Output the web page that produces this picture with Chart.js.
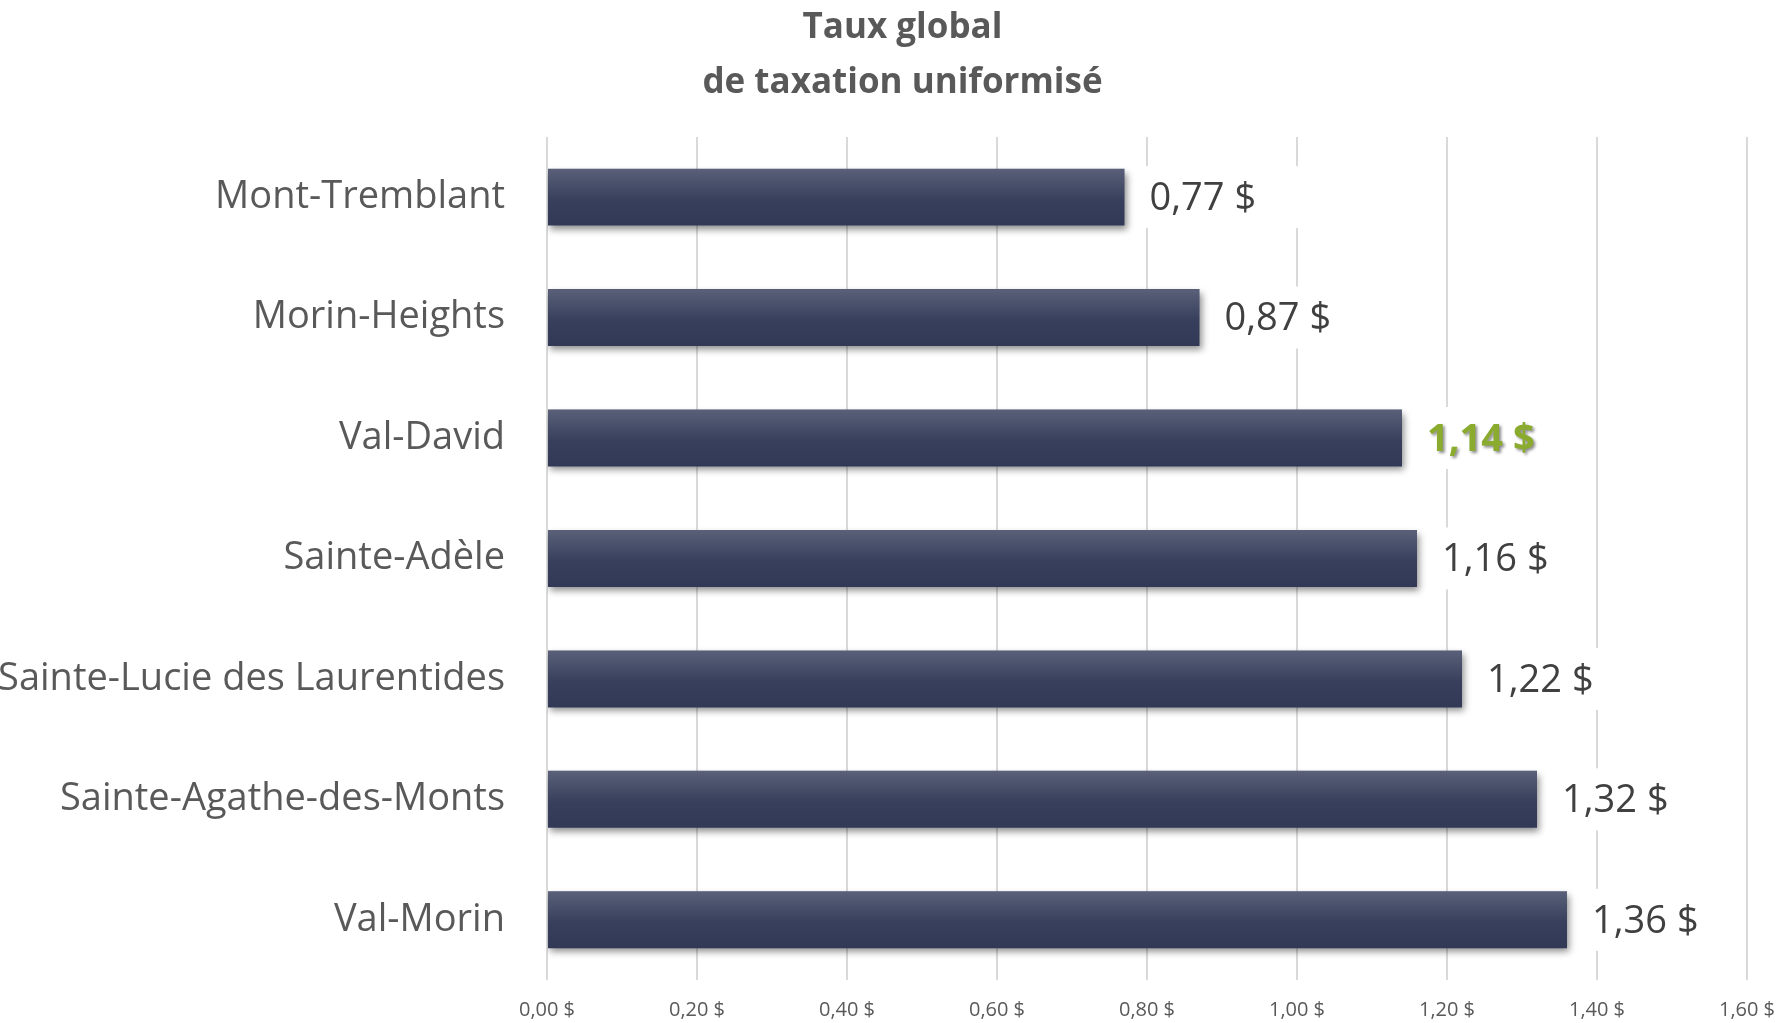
<!DOCTYPE html>
<html lang="fr">
<head>
<meta charset="utf-8">
<title>Taux global de taxation uniformisé</title>
<script src="https://cdn.jsdelivr.net/npm/chart.js@4.4.1/dist/chart.umd.min.js"></script>
<style>
  html, body { margin: 0; padding: 0; background: #fff; overflow: hidden; }
  canvas { display: block; }
</style>
</head>
<body>
<canvas id="taux" width="1783" height="1023"></canvas>
<script>
// Données
const municipalites = [
  "Mont-Tremblant",
  "Morin-Heights",
  "Val-David",
  "Sainte-Adèle",
  "Sainte-Lucie des Laurentides",
  "Sainte-Agathe-des-Monts",
  "Val-Morin",
];
const taux = [0.77, 0.87, 1.14, 1.16, 1.22, 1.32, 1.36];
const enEvidence = ["Val-David"];
const ticksX = [0, 0.2, 0.4, 0.6, 0.8, 1.0, 1.2, 1.4, 1.6];

const police = "'Open Sans', 'Noto Sans', sans-serif";

function enDollars(v) {
  return v.toFixed(2).replace(".", ",") + " $";
}

// ombre sous les barres + reflet + étiquettes
const barresPlugin = {
  id: "barres",
  afterLayout(chart) {
    // le titre est un peu décalé vers la droite dans l'original
    chart.titleBlock.left += 29;
    chart.titleBlock.right += 29;
  },
  beforeDatasetsDraw(chart) {
    const ctx = chart.ctx;
    ctx.save();
    ctx.shadowColor = "rgba(0, 0, 0, 0.45)";
    ctx.shadowBlur = 7;
    ctx.shadowOffsetX = 2;
    ctx.shadowOffsetY = 4;
  },
  afterDatasetsDraw(chart) {
    const ctx = chart.ctx;
    ctx.restore();
    const meta = chart.getDatasetMeta(0);

    meta.data.forEach((bar) => {
      const top = bar.y - bar.height / 2;
      const g = ctx.createLinearGradient(0, top, 0, top + bar.height);
      g.addColorStop(0, "rgba(255,255,255,0.20)");
      g.addColorStop(0.55, "rgba(255,255,255,0.03)");
      g.addColorStop(1, "rgba(255,255,255,0)");
      ctx.fillStyle = g;
      ctx.fillRect(bar.base, top, bar.x - bar.base, bar.height);
    });

    meta.data.forEach((bar, i) => {
      const txt = enDollars(taux[i]);
      const fort = enEvidence.includes(municipalites[i]);
      ctx.save();
      ctx.font = (fort ? "bold " : "") + "38px " + police;
      const w = ctx.measureText(txt).width;
      const x = bar.x + 25;
      // fond blanc de l'étiquette (coupe le quadrillage)
      ctx.fillStyle = "#ffffff";
      ctx.fillRect(x - 12, bar.y - 31, w + 58, 62);
      ctx.textBaseline = "middle";
      ctx.textAlign = "left";
      if (fort) {
        ctx.shadowColor = "rgba(0,0,0,0.45)";
        ctx.shadowBlur = 3;
        ctx.shadowOffsetX = 2;
        ctx.shadowOffsetY = 2;
        ctx.fillStyle = "#8aab2d";
      } else {
        ctx.fillStyle = "#404040";
      }
      ctx.fillText(txt, x, bar.y + 2);
      ctx.restore();
    });
  },
};

new Chart(document.getElementById("taux"), {
  type: "bar",
  data: {
    labels: municipalites,
    datasets: [
      {
        label: "Taux global de taxation uniformisé",
        data: taux,
        backgroundColor: "#313957",
        borderWidth: 0,
        categoryPercentage: 1,
        barPercentage: 0.473,
      },
    ],
  },
  options: {
    indexAxis: "y",
    responsive: false,
    animation: false,
    layout: { padding: { top: 0, right: 36, bottom: 0, left: 0 } },
    plugins: {
      legend: { display: false },
      tooltip: { enabled: false },
      title: {
        display: true,
        text: ["Taux global", "de taxation uniformisé"],
        color: "#595959",
        font: { family: police, size: 35, weight: "bold", lineHeight: 1.57 },
        padding: { top: 1, bottom: 26 },
      },
    },
    scales: {
      x: {
        min: 0,
        max: 1.6,
        afterBuildTicks(scale) {
          scale.ticks = ticksX.map((v) => ({ value: v }));
        },
        afterFit(scale) {
          scale.height = 43;
          scale.paddingLeft = 0;
          scale.paddingRight = 0;
        },
        grid: { color: "#d9d9d9", lineWidth: 2, drawTicks: false },
        border: { display: false },
        ticks: {
          color: "#595959",
          padding: 18,
          font: { family: police, size: 20 },
          callback: (v) => enDollars(v),
        },
      },
      y: {
        afterFit(scale) {
          scale.width = 547;
          scale.paddingTop = 0;
          scale.paddingBottom = 0;
        },
        grid: { display: false, drawTicks: false },
        border: { display: false },
        ticks: {
          color: "#595959",
          padding: 42,
          font: { family: police, size: 38 },
        },
      },
    },
  },
  plugins: [barresPlugin],
});
</script>
</body>
</html>
